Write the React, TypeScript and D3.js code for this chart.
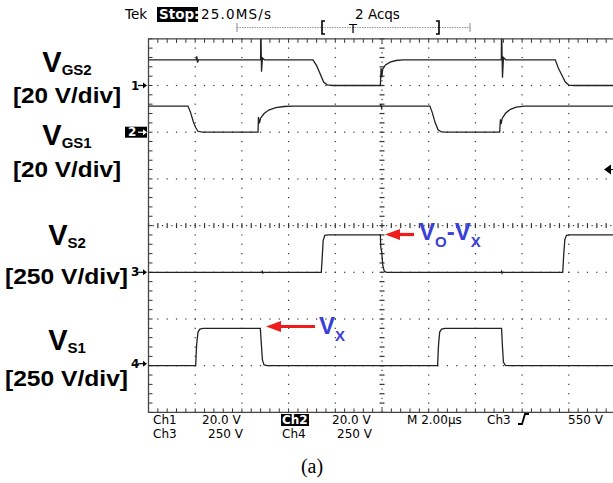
import React from 'react';
import * as d3 from 'd3';

// scope settings
const channelNames = ['VGS2', 'VGS1', 'VS2', 'VS1'];
const voltsPerDiv = [20, 20, 250, 250];
const groundDiv = [3, 2, -1, -3]; // ground marker position, divisions above center
const timePerDiv = 2; // us
const bottomRow1 = ['Ch1', '20.0 V', 'Ch2', '20.0 V', 'M 2.00\u00b5s', 'Ch3', '550 V'];
const bottomRow2 = ['Ch3', '250 V', 'Ch4', '250 V'];

// waveforms: [time us, volts]
const ch1Wave: [number, number][] = [
  [0, 11], [2.04, 11], [2.07, 12.5], [2.1, 9.8], [2.14, 11], [4.8, 11], [4.81, 26], [4.84, 5.9],
  [4.88, 11.8], [4.96, 11], [7.04, 11], [7.2, 8.5], [7.35, 5], [7.5, 1.5], [7.65, 0.3], [7.9, 0],
  [9.93, 0], [9.96, 7.5], [9.99, 3.5], [10.03, 7], [10.15, 8.8], [10.35, 10], [10.6, 10.7],
  [10.9, 11], [15.11, 11], [15.12, 26], [15.16, 3.3], [15.2, 12], [15.3, 11], [17.42, 11],
  [17.55, 7.5], [17.7, 4.5], [17.85, 1.5], [18.0, 0.2], [18.2, 0], [20, 0],
];
const ch2Wave: [number, number][] = [
  [0, 11.2], [1.69, 11.2], [1.8, 8.5], [1.92, 4.5], [2.02, 2], [2.12, 0.4], [2.3, 0], [4.69, 0],
  [4.71, 6.5], [4.75, 3.8], [4.8, 6], [4.95, 8], [5.15, 9.5], [5.45, 10.5], [5.8, 11], [6.2, 11.2],
  [9.93, 11.2], [9.95, 12], [9.98, 10.4], [10.01, 11.2], [12.05, 11.2], [12.15, 8.5], [12.28, 4],
  [12.4, 1], [12.55, 0.1], [12.7, 0], [15.04, 0], [15.07, 5.5], [15.1, 3.5], [15.15, 6],
  [15.3, 8.2], [15.5, 9.8], [15.75, 10.7], [16.1, 11.2], [20, 11.2],
];
const ch3Wave: [number, number][] = [
  [0, 0], [4.85, 0], [4.87, 5], [4.9, -4], [4.93, 0], [7.4, 0], [7.44, 80], [7.48, 170],
  [7.55, 198], [7.7, 200], [9.93, 200], [9.95, 130], [9.99, 110], [10.03, 40], [10.1, 5],
  [10.2, 0], [15.1, 0], [15.12, 5], [15.14, -4], [15.16, 0], [17.74, 0], [17.78, 90],
  [17.83, 175], [17.9, 198], [18.05, 200], [20, 200],
];
const ch4Wave: [number, number][] = [
  [0, 0], [2.02, 0], [2.06, 110], [2.12, 180], [2.2, 196], [2.35, 200], [4.79, 200], [4.83, 120],
  [4.88, 30], [4.95, 4], [5.1, 0], [12.38, 0], [12.42, 110], [12.47, 180], [12.55, 196],
  [12.7, 200], [15.12, 200], [15.16, 100], [15.2, 20], [15.28, 2], [15.4, 0], [20, 0],
];
const waves = [ch1Wave, ch2Wave, ch3Wave, ch4Wave];
const triggerLevel = 550; // volts on ch3

const TOP = 38.8;
const DIV = 46.7;
const LEFT = 148.5;
const BOTTOM = TOP + 8 * DIV;
const CENTER_Y = TOP + 4 * DIV;
const RED = '#ee1c1c';
const BLUE = '#3a3fd8';
const SCOPE_FONT = '"DejaVu Sans", sans-serif';
const LABEL_FONT = '"Liberation Sans", Arial, sans-serif';

const x = d3.scaleLinear().domain([0, 10 * timePerDiv]).range([LEFT, LEFT + 10 * DIV]);
const yFor = (i: number) =>
  d3.scaleLinear()
    .domain([0, voltsPerDiv[i]])
    .range([CENTER_Y - groundDiv[i] * DIV, CENTER_Y - (groundDiv[i] + 1) * DIV]);

function Graticule() {
  const marks: JSX.Element[] = [];
  const minor = d3.range(0, 41).map(j => j * DIV / 5);
  const minorX = d3.range(0, 51).map(j => j * DIV / 5);
  // vertical grid
  d3.range(1, 10).forEach(k => {
    const gx = LEFT + k * DIV;
    if (k === 5) return;
    minor.forEach((o, j) => marks.push(<rect key={`v${k}-${j}`} x={gx - 0.6} y={TOP + o - 0.6} width={1.2} height={1.2} fill="#333" />));
  });
  d3.range(1, 8).forEach(k => {
    const gy = TOP + k * DIV;
    if (k === 4) return;
    minorX.forEach((o, j) => marks.push(<rect key={`h${k}-${j}`} x={LEFT + o - 0.6} y={gy - 0.6} width={1.2} height={1.2} fill="#333" />));
  });
  // center cross
  const cx = LEFT + 5 * DIV;
  d3.range(0, 81).forEach(j => {
    const o = j * DIV / 10;
    const len = j % 2 === 0 ? 5 : 1.2;
    marks.push(<rect key={`cv${j}`} x={cx - len / 2} y={TOP + o - 0.6} width={len} height={1.2} fill="#333" />);
  });
  d3.range(0, 101).forEach(j => {
    const o = j * DIV / 10;
    const len = j % 2 === 0 ? 5 : 1.2;
    marks.push(<rect key={`ch${j}`} x={LEFT + o - 0.6} y={CENTER_Y - len / 2} width={1.2} height={len} fill="#333" />);
  });
  // border ticks
  minorX.forEach((o, j) => {
    marks.push(<line key={`tt${j}`} x1={LEFT + o} x2={LEFT + o} y1={TOP} y2={TOP + 4} stroke="#333" strokeWidth={1} />);
    marks.push(<line key={`tb${j}`} x1={LEFT + o} x2={LEFT + o} y1={BOTTOM} y2={BOTTOM - 4} stroke="#333" strokeWidth={1} />);
  });
  minor.forEach((o, j) => {
    marks.push(<line key={`tl${j}`} x1={LEFT} x2={LEFT + 4} y1={TOP + o} y2={TOP + o} stroke="#333" strokeWidth={1} />);
  });
  return (
    <g>
      {marks}
      <line x1={LEFT} x2={LEFT + 10 * DIV} y1={TOP} y2={TOP} stroke="#444" strokeWidth={1.3} />
      <line x1={LEFT} x2={LEFT + 10 * DIV} y1={BOTTOM} y2={BOTTOM} stroke="#444" strokeWidth={1.3} />
      <line x1={LEFT} x2={LEFT} y1={TOP} y2={BOTTOM} stroke="#444" strokeWidth={1.3} />
    </g>
  );
}

function Arrow({ x0, x1, y }: { x0: number; x1: number; y: number }) {
  // head at x0 (pointing left)
  return (
    <g>
      <line x1={x0 + 12} x2={x1} y1={y} y2={y} stroke={RED} strokeWidth={3.2} />
      <path d={`M${x0},${y} L${x0 + 15},${y - 5.5} L${x0 + 15},${y + 5.5} Z`} fill={RED} />
    </g>
  );
}

function GroundMarker({ label, y, boxed }: { label: string; y: number; boxed?: boolean }) {
  return (
    <g>
      {boxed && <rect x={125} y={y - 5.5} width={22} height={11} fill="#000" />}
      <text x={boxed ? 128 : 131} y={y + 4} fontFamily={SCOPE_FONT} fontSize={12} fontWeight="bold" fill={boxed ? '#fff' : '#000'}>{label}</text>
      <line x1={138} x2={145} y1={y} y2={y} stroke={boxed ? '#fff' : '#000'} strokeWidth={1.2} />
      <path d={`M${147},${y} L${143},${y - 3} L${143},${y + 3} Z`} fill={boxed ? '#fff' : '#000'} />
    </g>
  );
}

function LeftLabel({ sub, y, scale, yScale, w }: { sub: string; y: number; scale: string; yScale: number; w: number }) {
  return (
    <g fontFamily={LABEL_FONT} fontWeight="bold" fill="#000">
      <text x={67} y={y} textAnchor="middle">
        <tspan fontSize={29}>V</tspan>
        <tspan fontSize={15} dy={3}>{sub}</tspan>
      </text>
      <text x={scale.length > 10 ? 5 : 13} y={yScale} fontSize={22} textLength={w} lengthAdjust="spacingAndGlyphs">{scale}</text>
    </g>
  );
}

export default function App() {
  const line = d3.line<[number, number]>();
  const trigY = yFor(2)(triggerLevel);
  const row1X = [153, 202, 282, 332, 407, 487, 568];
  const row2X = [153, 208, 282, 337];
  return (
    <svg width={613} height={483} style={{ position: 'absolute', left: 0, top: 0, background: '#fff' }}>
      <defs>
        <clipPath id="screen">
          <rect x={LEFT} y={TOP} width={10 * DIV} height={8 * DIV} />
        </clipPath>
      </defs>
      {/* header */}
      <g fontFamily={SCOPE_FONT} fontSize={13.5} fill="#000">
        <text x={125} y={19}>Tek</text>
        <rect x={157} y={7} width={41} height={15} fill="#000" />
        <text x={159} y={19} fill="#fff" fontWeight="bold">Stop:</text>
        <text x={201} y={19} textLength={70}>25.0MS/s</text>
        <text x={355} y={19}>2 Acqs</text>
        <line x1={237} x2={470} y1={27.5} y2={27.5} stroke="#999" strokeWidth={1} strokeDasharray="1.5,1" />
        <line x1={237} x2={237} y1={23} y2={32} stroke="#888" />
        <line x1={470} x2={470} y1={23} y2={32} stroke="#888" />
        <path d="M325,21 L322,21 L322,34 L325,34" fill="none" stroke="#000" strokeWidth={1.6} />
        <path d="M436,21 L439,21 L439,34 L436,34" fill="none" stroke="#000" strokeWidth={1.6} />
        <text x={353} y={33} textAnchor="middle" fontSize={13}>T</text>
      </g>
      <Graticule />
      <g clipPath="url(#screen)">
        {waves.map((w, i) => {
          const y = yFor(i);
          return (
            <path key={channelNames[i]} d={line(w.map(([t, v]) => [x(t), y(v)]) as [number, number][]) || ''}
              fill="none" stroke="#222" strokeWidth={1.3} />
          );
        })}
      </g>
      {/* trigger level marker */}
      <path d={`M604,${trigY} L611,${trigY - 5} L611,${trigY + 5} Z`} fill="#000" />
      <line x1={610} x2={613} y1={trigY} y2={trigY} stroke="#000" />
      {/* ground markers */}
      <GroundMarker label="1" y={yFor(0)(0)} />
      <GroundMarker label="2" y={yFor(1)(0)} boxed />
      <GroundMarker label="3" y={yFor(2)(0)} />
      <GroundMarker label="4" y={yFor(3)(0) - 2} />
      {/* channel labels */}
      <LeftLabel sub="GS2" y={72} scale="[20 V/div]" yScale={103} w={108} />
      <LeftLabel sub="GS1" y={145} scale="[20 V/div]" yScale={177} w={108} />
      <LeftLabel sub="S2" y={245} scale="[250 V/div]" yScale={284} w={123} />
      <LeftLabel sub="S1" y={350} scale="[250 V/div]" yScale={386} w={123} />
      {/* annotations */}
      <Arrow x0={385} x1={414} y={234.5} />
      <text x={419} y={240} fontFamily={LABEL_FONT} fontWeight="bold" fill={BLUE}>
        <tspan fontSize={24}>V</tspan>
        <tspan fontSize={15} dy={7}>O</tspan>
        <tspan fontSize={24} dy={-7}>-V</tspan>
        <tspan fontSize={15} dy={7}>X</tspan>
      </text>
      <Arrow x0={266} x1={315} y={326.5} />
      <text x={319} y={333.5} fontFamily={LABEL_FONT} fontWeight="bold" fill={BLUE}>
        <tspan fontSize={24}>V</tspan>
        <tspan fontSize={15} dy={7}>X</tspan>
      </text>
      {/* readout */}
      <g fontFamily={SCOPE_FONT} fontSize={12} fill="#000">
        <rect x={281} y={414} width={28} height={12} fill="#000" />
        {bottomRow1.map((s, i) => (
          <text key={`r1${i}`} x={row1X[i]} y={424} fill={i === 2 ? '#fff' : '#000'} fontWeight={i === 2 ? 'bold' : 'normal'}>{s}</text>
        ))}
        <path d="M518,424 L522,424 L525,414 L529,414" fill="none" stroke="#000" strokeWidth={1.8} />
        {bottomRow2.map((s, i) => (
          <text key={`r2${i}`} x={row2X[i]} y={438}>{s}</text>
        ))}
      </g>
      <text x={312} y={473} textAnchor="middle" fontFamily='"Liberation Serif", "Times New Roman", serif' fontSize={20}>(a)</text>
    </svg>
  );
}
